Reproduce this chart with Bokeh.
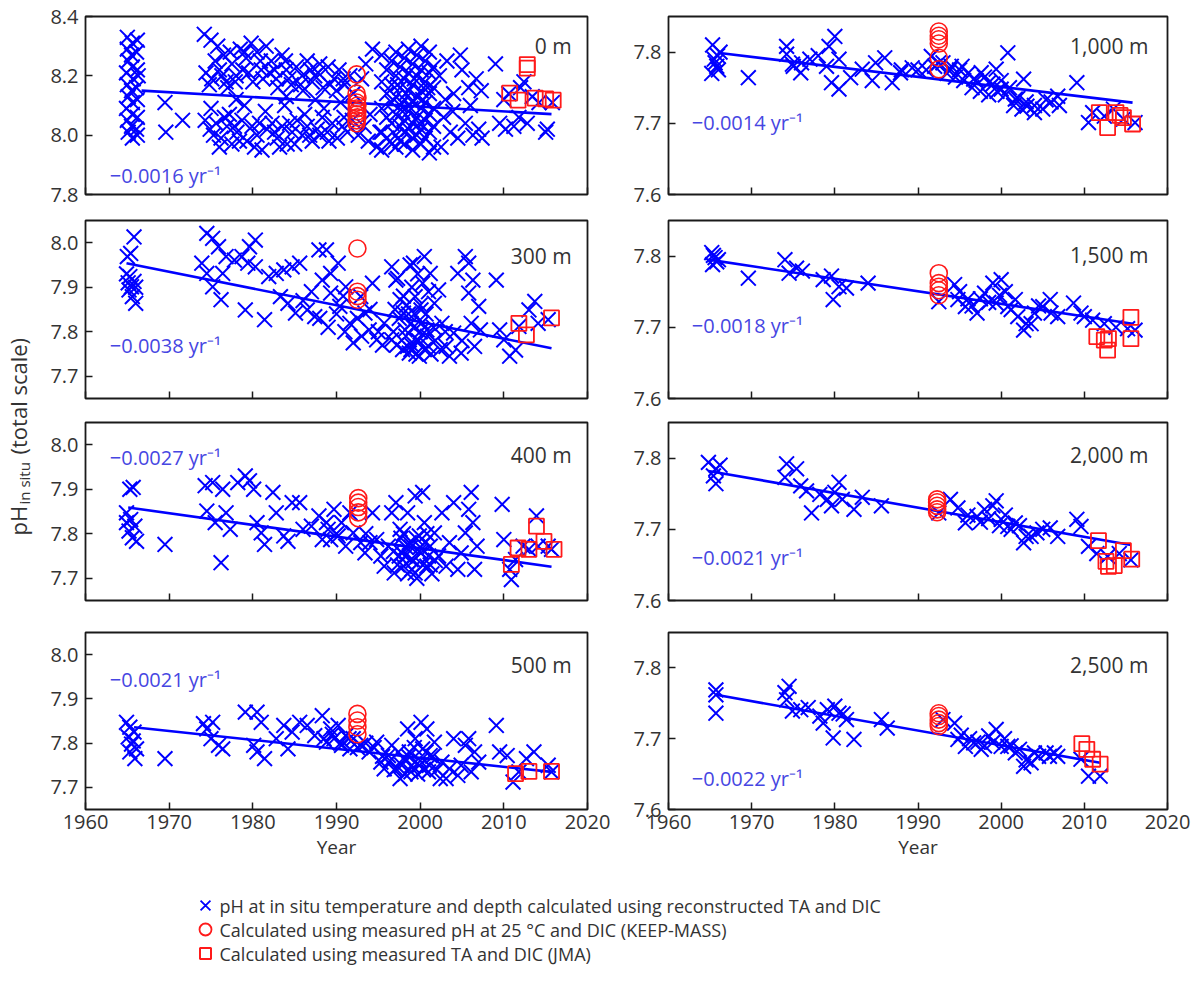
import math
from bokeh.plotting import figure
from bokeh.layouts import row, column
from bokeh.models import Range1d, FixedTicker, PrintfTickFormatter, Label
from bokeh.core.properties import value
from bokeh.embed import file_html
from bokeh.resources import INLINE

FONT = "Open Sans"
BLUE = "#0000ff"
RED = "#ff1a1a"
TXT = "#333333"
SLOPE_C = "#4646e2"

# ---------------- data ----------------
year_ticks = [1960, 1970, 1980, 1990, 2000, 2010, 2020]
depth_labels = ["0 m", "300 m", "400 m", "500 m", "1,000 m", "1,500 m", "2,000 m", "2,500 m"]
slope_labels = ["\u22120.0016", "\u22120.0038", "\u22120.0027", "\u22120.0021",
                "\u22120.0014", "\u22120.0018", "\u22120.0021", "\u22120.0022"]

cross_0m = [
    (1965.0, 8.33), (1965.0, 8.29), (1965.1, 8.25), (1964.9, 8.21), (1965.0, 8.17), (1965.1, 8.13),
    (1964.9, 8.09), (1965.0, 8.05), (1965.1, 8.01), (1965.6, 8.31), (1965.5, 8.27), (1965.6, 8.23),
    (1965.7, 8.19), (1965.5, 8.15), (1965.6, 8.11), (1965.6, 8.07), (1965.5, 8.03), (1965.6, 7.99),
    (1966.2, 8.32), (1966.1, 8.28), (1966.2, 8.22), (1966.3, 8.20), (1966.1, 8.16), (1966.2, 8.12),
    (1966.2, 8.06), (1966.1, 8.02), (1966.2, 8.00),
    (1969.5, 8.11), (1969.6, 8.01), (1971.6, 8.05),
    (1974.2, 8.34), (1975.0, 8.32), (1975.8, 8.30), (1976.5, 8.27), (1974.4, 8.21), (1975.1, 8.19),
    (1976.0, 8.22), (1976.8, 8.18), (1977.5, 8.24), (1978.0, 8.20), (1978.5, 8.29), (1979.2, 8.26),
    (1979.8, 8.31), (1980.5, 8.28), (1981.0, 8.22), (1981.6, 8.30), (1982.2, 8.25), (1982.8, 8.19),
    (1983.5, 8.27), (1984.0, 8.22), (1984.6, 8.17), (1985.2, 8.23), (1985.9, 8.20), (1986.5, 8.25),
    (1987.1, 8.18), (1987.8, 8.21), (1988.4, 8.16), (1989.0, 8.23), (1989.7, 8.19), (1990.3, 8.22),
    (1991.0, 8.17), (1991.6, 8.20), (1977.0, 8.16), (1980.0, 8.18), (1983.0, 8.16), (1986.0, 8.15),
    (1990.0, 8.15), (1975.5, 8.25), (1978.8, 8.22), (1982.0, 8.21), (1988.0, 8.24), (1992.0, 8.14),
    (1993.5, 8.24), (1994.3, 8.29), (1993.0, 8.19),
    (1974.8, 8.17), (1976.3, 8.20), (1977.9, 8.18), (1979.5, 8.21), (1981.2, 8.19), (1982.6, 8.22),
    (1984.3, 8.19), (1985.7, 8.17), (1987.4, 8.20), (1989.2, 8.17), (1990.8, 8.19), (1979.0, 8.28),
    (1980.9, 8.25), (1983.9, 8.25), (1986.9, 8.22), (1977.3, 8.28),
    (1974.3, 8.05), (1974.9, 8.02), (1975.6, 8.04), (1976.2, 7.99), (1976.9, 8.03), (1977.5, 7.97),
    (1978.1, 8.01), (1978.7, 8.05), (1979.3, 7.98), (1979.9, 8.03), (1980.5, 8.00), (1981.1, 7.95),
    (1981.7, 8.02), (1982.3, 8.04), (1982.9, 7.99), (1983.5, 8.03), (1984.1, 7.97), (1984.7, 8.01),
    (1985.3, 8.05), (1985.9, 8.00), (1986.5, 8.03), (1987.1, 7.98), (1987.7, 8.02), (1988.3, 8.06),
    (1988.9, 8.01), (1989.5, 8.04), (1990.1, 7.99), (1990.7, 8.03), (1991.3, 8.01), (1991.9, 8.05),
    (1975.0, 8.09), (1977.2, 8.07), (1979.0, 8.10), (1981.5, 8.08), (1983.8, 8.10), (1986.2, 8.07),
    (1988.5, 8.09), (1990.5, 8.11), (1976.0, 7.96), (1980.2, 7.96), (1985.0, 7.97), (1992.6, 8.00),
    (1993.3, 8.03), (1994.0, 8.07), (1994.8, 7.96), (1995.2, 8.01), (1993.8, 7.98), (1978.0, 8.12),
    (1984.0, 8.13), (1987.5, 8.12),
    (1975.3, 8.00), (1976.6, 8.06), (1978.4, 7.98), (1980.8, 8.04), (1982.6, 8.01), (1984.4, 8.04),
    (1986.8, 8.00), (1989.1, 7.98), (1990.9, 8.06), (1977.8, 8.03), (1983.2, 7.96), (1988.0, 8.00),
    (1995.4, 8.27), (1995.4, 8.18), (1995.4, 8.09), (1995.4, 8.01), (1995.4, 7.95),
    (1996.0, 8.22), (1996.0, 8.14), (1996.0, 8.06), (1996.0, 7.99),
    (1996.6, 8.25), (1996.6, 8.17), (1996.6, 8.11), (1996.6, 8.04), (1996.6, 7.97),
    (1997.1, 8.28), (1997.1, 8.20), (1997.1, 8.13), (1997.1, 8.07), (1997.1, 8.00), (1997.1, 7.96),
    (1997.6, 8.23), (1997.6, 8.16), (1997.6, 8.10), (1997.6, 8.03), (1997.6, 7.98),
    (1998.1, 8.26), (1998.1, 8.19), (1998.1, 8.12), (1998.1, 8.05), (1998.1, 8.01), (1998.1, 7.97),
    (1998.6, 8.29), (1998.6, 8.21), (1998.6, 8.15), (1998.6, 8.08), (1998.6, 8.02),
    (1999.1, 8.24), (1999.1, 8.17), (1999.1, 8.11), (1999.1, 8.04), (1999.1, 7.99), (1999.1, 7.95),
    (1999.6, 8.27), (1999.6, 8.20), (1999.6, 8.13), (1999.6, 8.06), (1999.6, 8.00),
    (2000.1, 8.30), (2000.1, 8.22), (2000.1, 8.15), (2000.1, 8.09), (2000.1, 8.02), (2000.1, 7.97),
    (2000.6, 8.25), (2000.6, 8.18), (2000.6, 8.11), (2000.6, 8.05), (2000.6, 7.99),
    (2001.1, 8.28), (2001.1, 8.21), (2001.1, 8.14), (2001.1, 8.07), (2001.1, 8.01), (2001.1, 7.94),
    (2001.6, 8.23), (2001.6, 8.16), (2001.6, 8.09), (2001.6, 8.03), (2001.6, 7.96),
    (1997.3, 8.17), (1998.3, 8.14), (1999.3, 8.19), (2000.3, 8.12), (1998.9, 8.09), (1997.9, 8.08),
    (2000.9, 8.16), (1999.9, 8.04),
    (2002.3, 8.20), (2002.8, 8.06), (2003.2, 8.25), (2003.6, 8.01), (2004.0, 8.14), (2004.5, 7.99),
    (2005.0, 8.22), (2005.4, 8.04), (2005.8, 8.16), (2006.3, 8.00), (2006.7, 8.19), (2007.0, 8.02),
    (2007.3, 8.15), (2002.5, 7.96), (2003.9, 8.08), (2004.8, 8.27), (2006.0, 8.10), (2007.4, 7.99),
    (2003.0, 8.12),
    (2009.0, 8.24), (2009.5, 8.04), (2010.2, 8.02), (2010.6, 8.14), (2011.2, 8.03), (2011.8, 8.06),
    (2012.4, 8.18), (2012.8, 8.04), (2013.4, 8.13), (2014.2, 8.11), (2015.0, 8.01), (2015.2, 8.02),
    (2015.8, 8.11), (2010.0, 8.12), (2012.0, 8.16),
]
circle_0m = [(1992.4, 8.205), (1992.4, 8.14), (1992.5, 8.125), (1992.4, 8.11), (1992.5, 8.10),
             (1992.4, 8.09), (1992.5, 8.08), (1992.4, 8.07), (1992.5, 8.06), (1992.4, 8.05), (1992.4, 8.04)]
square_0m = [(2010.7, 8.142), (2011.7, 8.118), (2012.8, 8.238), (2012.8, 8.226), (2013.75, 8.125),
             (2015.0, 8.122), (2015.9, 8.118)]
trend_0m = [(1966.7, 8.150), (2015.7, 8.071)]

cross_300m = [
    (1965.8, 8.013), (1965.4, 7.976), (1965.0, 7.969), (1964.9, 7.930), (1965.3, 7.924), (1965.8, 7.913),
    (1965.5, 7.901), (1966.0, 7.900), (1965.2, 7.894), (1965.6, 7.879), (1966.0, 7.864), (1965.1, 7.910),
    (1974.5, 8.021), (1975.2, 8.010), (1975.9, 7.991), (1973.9, 7.954), (1974.5, 7.931), (1975.2, 7.901),
    (1976.4, 7.931), (1976.2, 7.872), (1976.8, 7.969), (1977.8, 7.961), (1978.7, 7.969), (1979.6, 7.991),
    (1980.3, 8.006), (1979.4, 7.954), (1980.3, 7.946), (1979.1, 7.849), (1981.4, 7.827), (1981.9, 7.924),
    (1982.8, 7.931), (1983.7, 7.939), (1984.7, 7.946), (1985.6, 7.954), (1983.3, 7.879), (1984.2, 7.864),
    (1985.1, 7.842), (1986.5, 7.849), (1987.4, 7.834), (1987.9, 7.984), (1988.8, 7.984), (1988.3, 7.916),
    (1989.3, 7.931), (1989.3, 7.887), (1990.2, 7.954), (1990.4, 7.857), (1991.1, 7.901), (1991.6, 7.819),
    (1992.0, 7.775), (1992.9, 7.879), (1993.4, 7.842), (1993.9, 7.804), (1994.3, 7.909), (1994.8, 7.782),
    (1995.7, 7.819), (1996.6, 7.946), (1996.6, 7.782),
    (1988.0, 7.830), (1989.0, 7.810), (1990.0, 7.840), (1991.0, 7.800), (1992.5, 7.830), (1993.0, 7.790),
    (1994.0, 7.850), (1995.0, 7.800), (1995.5, 7.770), (1986.0, 7.870), (1987.0, 7.890), (1990.8, 7.880),
    (1997.1, 7.916), (1997.6, 7.872), (1998.0, 7.842), (1998.2, 7.804), (1998.5, 7.767), (1998.7, 7.752),
    (1998.9, 7.819), (1999.2, 7.954), (1999.4, 7.879), (1999.6, 7.782), (1999.9, 7.745), (2000.1, 7.849),
    (2000.3, 7.909), (2000.5, 7.969), (2000.8, 7.804), (2001.0, 7.767), (2001.2, 7.931), (2001.7, 7.864),
    (2002.2, 7.894), (2002.6, 7.819), (2003.1, 7.767), (2003.5, 7.745), (2004.0, 7.797), (2004.5, 7.931),
    (2004.9, 7.752), (2005.4, 7.969), (2005.8, 7.954), (2005.8, 7.887), (2006.1, 7.819), (2006.3, 7.916),
    (2006.5, 7.767), (2007.0, 7.857), (2007.2, 7.804),
    (1996.8, 7.800), (1997.2, 7.770), (1997.5, 7.830), (1997.9, 7.760), (1998.3, 7.790), (1998.6, 7.840),
    (1998.9, 7.760), (1999.2, 7.810), (1999.5, 7.750), (1999.8, 7.780), (2000.2, 7.820), (2000.5, 7.760),
    (2000.9, 7.790), (2001.3, 7.750), (2001.6, 7.810), (1998.0, 7.880), (1999.0, 7.900), (2000.0, 7.860),
    (1997.3, 7.920), (2001.0, 7.890), (1998.8, 7.950), (1999.7, 7.930),
    (1997.0, 7.850), (1998.4, 7.860), (1999.3, 7.840), (2000.7, 7.840), (2001.8, 7.780), (2002.4, 7.760),
    (1999.0, 7.770), (2000.0, 7.800), (2003.0, 7.800), (2005.0, 7.780),
    (2009.1, 7.916), (2009.5, 7.804), (2010.0, 7.782), (2010.7, 7.745), (2011.4, 7.759), (2011.8, 7.812),
    (2013.0, 7.849), (2013.7, 7.868), (2014.1, 7.819), (2015.3, 7.827),
]
circle_300m = [(1992.5, 7.987), (1992.5, 7.890), (1992.5, 7.880), (1992.5, 7.872)]
square_300m = [(2011.8, 7.819), (2012.7, 7.793), (2015.7, 7.831)]
trend_300m = [(1964.9, 7.954), (2015.7, 7.763)]

cross_400m = [
    (1965.3, 7.900), (1965.7, 7.904), (1964.9, 7.847), (1965.4, 7.832), (1965.9, 7.817), (1965.2, 7.806),
    (1965.6, 7.791), (1966.1, 7.783), (1964.9, 7.825),
    (1969.5, 7.776), (1974.3, 7.908), (1974.5, 7.851), (1975.2, 7.915), (1975.5, 7.825), (1976.2, 7.735),
    (1976.4, 7.900), (1976.8, 7.847), (1977.3, 7.810), (1978.2, 7.915), (1979.1, 7.930), (1979.6, 7.919),
    (1980.1, 7.900), (1980.5, 7.825), (1981.0, 7.802), (1981.4, 7.776), (1982.4, 7.893), (1982.8, 7.847),
    (1983.7, 7.795), (1984.2, 7.783), (1984.7, 7.870), (1985.6, 7.870), (1986.0, 7.810), (1987.0, 7.817),
    (1987.9, 7.840), (1988.3, 7.787), (1988.8, 7.825), (1989.3, 7.787), (1989.7, 7.855), (1990.2, 7.795),
    (1990.6, 7.825), (1991.1, 7.772), (1991.6, 7.847), (1992.0, 7.802), (1992.9, 7.780), (1993.4, 7.757),
    (1994.3, 7.847), (1994.8, 7.787), (1995.3, 7.750), (1995.7, 7.727), (1996.2, 7.772), (1996.6, 7.847),
    (1996.9, 7.712), (1989.0, 7.810), (1990.0, 7.800), (1993.5, 7.800), (1994.0, 7.780),
    (1997.1, 7.870), (1997.6, 7.810), (1997.8, 7.757), (1998.0, 7.727), (1998.5, 7.847), (1998.7, 7.780),
    (1998.9, 7.742), (1999.4, 7.885), (1999.4, 7.712), (1999.9, 7.795), (2000.1, 7.757), (2000.3, 7.893),
    (2000.5, 7.825), (2000.8, 7.727), (2001.2, 7.772), (2001.7, 7.802), (2002.2, 7.750), (2002.6, 7.847),
    (2003.1, 7.727), (2003.5, 7.780), (2004.0, 7.870), (2004.5, 7.720), (2004.9, 7.757), (2005.4, 7.802),
    (2005.8, 7.855), (2006.1, 7.893), (2006.3, 7.825), (2006.5, 7.720), (2006.8, 7.772),
    (1996.8, 7.760), (1997.3, 7.730), (1997.7, 7.790), (1998.2, 7.750), (1998.5, 7.710), (1998.9, 7.770),
    (1999.2, 7.740), (1999.6, 7.700), (1999.9, 7.760), (2000.3, 7.730), (2000.6, 7.780), (2001.0, 7.750),
    (2001.4, 7.710), (2001.8, 7.740), (1998.0, 7.800), (1999.5, 7.790), (2000.8, 7.800),
    (1998.3, 7.770), (1999.0, 7.720), (2000.0, 7.770), (2001.2, 7.730), (1997.5, 7.750),
    (2009.8, 7.866), (2010.0, 7.787), (2010.7, 7.720), (2010.9, 7.697), (2011.4, 7.742), (2012.3, 7.772),
    (2013.0, 7.765), (2013.9, 7.840), (2014.1, 7.772), (2015.3, 7.772), (2015.7, 7.765),
]
circle_400m = [(1992.6, 7.880), (1992.6, 7.870), (1992.6, 7.860), (1992.6, 7.848), (1992.6, 7.835)]
square_400m = [(2010.9, 7.731), (2011.7, 7.768), (2013.0, 7.765), (2013.9, 7.817), (2014.8, 7.783),
               (2016.0, 7.765)]
trend_400m = [(1965.1, 7.859), (2015.7, 7.726)]

cross_500m = [
    (1964.9, 7.847), (1965.3, 7.836), (1965.8, 7.825), (1965.1, 7.814), (1965.5, 7.798), (1966.1, 7.787),
    (1965.3, 7.780), (1965.9, 7.765), (1965.7, 7.805),
    (1969.5, 7.765), (1974.1, 7.844), (1974.5, 7.832), (1975.2, 7.847), (1975.0, 7.810), (1975.9, 7.795),
    (1976.4, 7.787), (1979.1, 7.870), (1980.5, 7.870), (1980.1, 7.795), (1980.5, 7.780), (1981.0, 7.847),
    (1981.4, 7.765), (1982.8, 7.810), (1983.7, 7.840), (1984.2, 7.787), (1984.7, 7.825), (1985.6, 7.847),
    (1986.5, 7.840), (1987.4, 7.817), (1988.3, 7.862), (1988.8, 7.802), (1989.3, 7.832), (1989.7, 7.810),
    (1990.2, 7.840), (1990.6, 7.795), (1991.1, 7.817), (1991.6, 7.787), (1992.0, 7.810), (1992.9, 7.795),
    (1993.9, 7.780), (1994.8, 7.802), (1995.3, 7.757), (1995.7, 7.742), (1996.2, 7.772),
    (1996.6, 7.795), (1997.1, 7.742), (1997.6, 7.720), (1998.0, 7.765), (1998.5, 7.832), (1998.7, 7.780),
    (1998.9, 7.735), (1999.4, 7.810), (1999.9, 7.750), (2000.1, 7.847), (2000.3, 7.787), (2000.8, 7.832),
    (2001.0, 7.735), (2001.2, 7.772), (2001.7, 7.802), (2002.6, 7.757), (2003.1, 7.720), (2003.5, 7.742),
    (2004.0, 7.810), (2004.5, 7.727), (2004.9, 7.750), (2005.4, 7.795), (2005.8, 7.810), (2006.1, 7.735),
    (2006.5, 7.780), (2007.0, 7.757),
    (1996.4, 7.760), (1996.9, 7.740), (1997.4, 7.780), (1997.8, 7.750), (1998.2, 7.730), (1998.6, 7.770),
    (1999.0, 7.750), (1999.3, 7.790), (1999.7, 7.730), (2000.0, 7.760), (2000.4, 7.740), (2000.7, 7.780),
    (2001.1, 7.750), (2001.5, 7.770), (2002.0, 7.740), (2002.4, 7.720), (1995.5, 7.770), (1994.5, 7.790),
    (1993.5, 7.800), (1992.5, 7.790), (1991.5, 7.810), (1990.5, 7.800), (1989.5, 7.820), (1988.5, 7.810),
    (2009.1, 7.840), (2009.5, 7.780), (2010.4, 7.772), (2011.1, 7.712), (2011.8, 7.735), (2012.7, 7.765),
    (2013.6, 7.780), (2015.3, 7.750), (2015.7, 7.735),
]
circle_500m = [(1992.5, 7.866), (1992.5, 7.851), (1992.5, 7.836), (1992.5, 7.820)]
square_500m = [(2011.4, 7.731), (2013.0, 7.736), (2015.7, 7.736)]
trend_500m = [(1965.8, 7.836), (2015.7, 7.735)]

cross_1000m = [
    (1965.3, 7.810), (1965.5, 7.790), (1965.8, 7.780), (1966.0, 7.775), (1965.2, 7.770), (1966.2, 7.800),
    (1965.6, 7.785), (1965.9, 7.795),
    (1969.6, 7.764), (1974.2, 7.808), (1974.2, 7.797), (1974.9, 7.783), (1975.9, 7.771), (1975.0, 7.780),
    (1976.0, 7.785), (1977.0, 7.790), (1978.0, 7.795), (1979.0, 7.780), (1980.0, 7.822), (1979.3, 7.808),
    (1980.5, 7.790), (1979.6, 7.757), (1980.5, 7.748), (1981.9, 7.764), (1983.3, 7.776), (1984.9, 7.785),
    (1986.0, 7.792), (1986.9, 7.757), (1987.9, 7.771), (1989.3, 7.778), (1984.5, 7.760), (1988.0, 7.775),
    (1990.0, 7.775),
    (1991.6, 7.794), (1992.5, 7.785), (1993.9, 7.776), (1995.3, 7.780), (1996.7, 7.762), (1997.6, 7.771),
    (1998.5, 7.757), (1999.4, 7.776), (2000.8, 7.799), (2000.0, 7.748), (2001.7, 7.734), (2002.7, 7.762),
    (2003.1, 7.724), (2004.0, 7.715), (2005.4, 7.733), (2006.8, 7.738), (2009.1, 7.757), (2010.5, 7.701),
    (2011.0, 7.715), (2012.4, 7.710), (2013.5, 7.720), (2014.7, 7.706), (2016.1, 7.701),
    (1991.0, 7.775), (1992.0, 7.780), (1993.0, 7.785), (1993.5, 7.770), (1994.0, 7.780), (1994.5, 7.765),
    (1995.0, 7.775), (1995.5, 7.760), (1996.0, 7.770), (1996.5, 7.750), (1997.0, 7.760), (1997.5, 7.745),
    (1998.0, 7.765), (1998.5, 7.740), (1999.0, 7.755), (1999.5, 7.745), (2000.0, 7.760), (2000.5, 7.740),
    (2001.0, 7.750), (2001.5, 7.725), (2002.0, 7.735), (2002.5, 7.720), (2003.0, 7.730), (2004.0, 7.725),
    (2005.0, 7.720), (2006.0, 7.730), (2007.0, 7.725),
]
circle_1000m = [(1992.5, 7.829), (1992.5, 7.823), (1992.5, 7.818), (1992.5, 7.812), (1992.5, 7.792),
                (1992.5, 7.776)]
square_1000m = [(2011.8, 7.715), (2012.8, 7.694), (2013.8, 7.715), (2014.3, 7.711), (2014.7, 7.708),
                (2015.8, 7.699)]
trend_1000m = [(1965.9, 7.799), (2015.8, 7.729)]

cross_1500m = [
    (1965.2, 7.805), (1965.6, 7.798), (1965.4, 7.801), (1965.8, 7.792), (1965.3, 7.788), (1966.0, 7.795),
    (1969.6, 7.769), (1974.0, 7.795), (1974.5, 7.776), (1975.4, 7.783), (1976.1, 7.779), (1978.6, 7.767),
    (1979.6, 7.772), (1979.8, 7.739), (1980.5, 7.757), (1981.4, 7.755), (1984.0, 7.762),
    (1992.5, 7.736), (1994.4, 7.760), (1994.8, 7.739), (1995.7, 7.729), (1997.1, 7.720), (1998.0, 7.748),
    (1999.0, 7.762), (2000.0, 7.767), (1999.4, 7.734), (2000.8, 7.729), (2001.7, 7.739), (2002.7, 7.696),
    (2003.6, 7.705), (2005.0, 7.729), (2005.9, 7.739), (2006.8, 7.715), (2008.7, 7.734), (2009.6, 7.720),
    (2011.0, 7.710), (2012.4, 7.705), (2013.8, 7.700), (2015.2, 7.698), (2016.1, 7.696),
    (1995.0, 7.750), (1996.0, 7.740), (1996.5, 7.730), (1997.5, 7.740), (1998.5, 7.735), (1999.8, 7.745),
    (2000.5, 7.750), (2001.2, 7.725), (2002.0, 7.715), (2003.0, 7.705), (2004.0, 7.720), (2004.5, 7.730),
    (2006.0, 7.720), (2010.0, 7.715),
]
circle_1500m = [(1992.5, 7.776), (1992.5, 7.762), (1992.5, 7.757), (1992.5, 7.752), (1992.5, 7.745)]
square_1500m = [(2011.5, 7.687), (2012.4, 7.682), (2012.8, 7.668), (2012.9, 7.684), (2015.6, 7.714),
                (2015.6, 7.684)]
trend_1500m = [(1964.8, 7.795), (2015.8, 7.705)]

cross_2000m = [
    (1964.8, 7.794), (1965.7, 7.785), (1965.4, 7.775), (1965.7, 7.764), (1966.2, 7.790),
    (1974.2, 7.792), (1974.0, 7.773), (1975.4, 7.785), (1975.9, 7.761), (1976.6, 7.754), (1977.2, 7.723),
    (1978.2, 7.749), (1979.1, 7.742), (1979.6, 7.733), (1980.5, 7.766), (1980.0, 7.752), (1980.9, 7.742),
    (1982.3, 7.728), (1983.3, 7.745), (1985.6, 7.733),
    (1992.5, 7.723), (1993.9, 7.742), (1994.8, 7.730), (1995.7, 7.709), (1997.1, 7.718), (1998.0, 7.728),
    (1999.0, 7.733), (1999.4, 7.740), (2000.0, 7.714), (2000.8, 7.704), (2001.7, 7.709), (2002.7, 7.681),
    (2003.6, 7.690), (2005.0, 7.700), (2005.9, 7.702), (2006.8, 7.690), (2009.1, 7.714), (2009.6, 7.704),
    (2010.5, 7.676), (2011.5, 7.666), (2012.8, 7.662), (2014.2, 7.666), (2015.6, 7.657),
    (1996.0, 7.720), (1997.5, 7.710), (1998.5, 7.715), (1999.8, 7.705), (2000.5, 7.720), (2001.2, 7.700),
    (2002.2, 7.705), (2003.0, 7.690), (2004.3, 7.695),
]
circle_2000m = [(1992.3, 7.742), (1992.3, 7.738), (1992.3, 7.733), (1992.3, 7.728), (1992.3, 7.724)]
square_2000m = [(2011.7, 7.684), (2012.6, 7.655), (2012.9, 7.648), (2013.6, 7.649), (2014.7, 7.670),
                (2015.7, 7.658)]
trend_2000m = [(1964.8, 7.782), (2015.6, 7.678)]

cross_2500m = [
    (1965.7, 7.769), (1965.7, 7.762), (1965.7, 7.736),
    (1974.0, 7.765), (1974.5, 7.774), (1974.2, 7.755), (1974.9, 7.739), (1975.9, 7.741), (1976.8, 7.744),
    (1978.2, 7.732), (1978.6, 7.722), (1979.1, 7.741), (1980.0, 7.746), (1980.5, 7.736), (1979.8, 7.701),
    (1981.4, 7.727), (1982.3, 7.699), (1981.0, 7.735), (1985.6, 7.727), (1986.3, 7.715),
    (1993.0, 7.727), (1994.4, 7.722), (1994.8, 7.699), (1995.7, 7.689), (1996.7, 7.694), (1997.6, 7.685),
    (1998.5, 7.704), (1999.4, 7.713), (2000.0, 7.689), (2000.8, 7.689), (2001.7, 7.680), (2002.7, 7.661),
    (2003.6, 7.666), (2004.5, 7.675), (2005.4, 7.680), (2006.4, 7.680), (2006.8, 7.675), (2009.6, 7.671),
    (2010.5, 7.647), (2011.9, 7.647),
    (1995.2, 7.705), (1996.2, 7.700), (1997.2, 7.695), (1998.0, 7.690), (1999.0, 7.695), (2000.4, 7.700),
    (2001.2, 7.690), (2002.2, 7.685), (2003.0, 7.670), (2004.0, 7.680), (2005.8, 7.675),
]
circle_2500m = [(1992.5, 7.736), (1992.5, 7.732), (1992.5, 7.727), (1992.5, 7.722), (1992.5, 7.718)]
square_2500m = [(2009.7, 7.693), (2010.3, 7.685), (2011.0, 7.671), (2011.9, 7.664)]
trend_2500m = [(1965.7, 7.762), (2011.9, 7.666)]

legend_labels = [
    "pH at in situ temperature and depth calculated using reconstructed TA and DIC",
    "Calculated using measured pH at 25 \u00b0C and DIC (KEEP-MASS)",
    "Calculated using measured TA and DIC (JMA)",
]
legend_markers = ["x", "circle", "square"]

# ---------------- layout ----------------
FRAME_H = 178
LEFT = dict(bl=45, fw=502, br=31)
RIGHT = dict(bl=50, fw=499, br=25)
ROW_B = [(16, 14), (12, 12), (12, 16), (16, 52)]  # (top, bottom) borders

MARK = {
    "x": dict(size=21, line_width=2.0, line_color=BLUE),
    "circle": dict(size=17, line_width=1.6, line_color=RED, fill_color=None),
    "square": dict(size=15, line_width=1.8, line_color=RED, fill_color=None),
}
LEG_MARK = {
    "x": dict(size=14, line_width=1.8, line_color=BLUE),
    "circle": dict(size=12, line_width=1.8, line_color=RED, fill_color=None),
    "square": dict(size=11, line_width=2.0, line_color=RED, fill_color=None),
}

panels = [
    (cross_0m, circle_0m, square_0m, trend_0m, 0, 0, (7.8, 8.4), [7.8, 8.0, 8.2, 8.4], (1962.9, 7.864), 8.302),
    (cross_300m, circle_300m, square_300m, trend_300m, 0, 1, (7.65, 8.05), [7.7, 7.8, 7.9, 8.0], (1962.9, 7.769), 7.971),
    (cross_400m, circle_400m, square_400m, trend_400m, 0, 2, (7.65, 8.05), [7.7, 7.8, 7.9, 8.0], (1962.9, 7.971), 7.976),
    (cross_500m, circle_500m, square_500m, trend_500m, 0, 3, (7.65, 8.05), [7.7, 7.8, 7.9, 8.0], (1962.9, 7.944), 7.976),
    (cross_1000m, circle_1000m, square_1000m, trend_1000m, 1, 0, (7.6, 7.85), [7.6, 7.7, 7.8], (1962.8, 7.701), 7.809),
    (cross_1500m, circle_1500m, square_1500m, trend_1500m, 1, 1, (7.6, 7.85), [7.6, 7.7, 7.8], (1962.8, 7.703), 7.801),
    (cross_2000m, circle_2000m, square_2000m, trend_2000m, 1, 2, (7.6, 7.85), [7.6, 7.7, 7.8], (1962.8, 7.660), 7.804),
    (cross_2500m, circle_2500m, square_2500m, trend_2500m, 1, 3, (7.6, 7.85), [7.6, 7.7, 7.8], (1962.8, 7.644), 7.804),
]

figs = {}
for idx, (cr, ci, sq, tr, col, rw, yr, yt, spos, lab_y) in enumerate(panels):
    g = LEFT if col == 0 else RIGHT
    bt, bb = ROW_B[rw]
    p = figure(width=g["bl"] + g["fw"] + g["br"], height=bt + FRAME_H + bb,
               x_range=Range1d(1960, 2020), y_range=Range1d(*yr),
               output_backend="svg", toolbar_location=None,
               min_border_left=g["bl"], min_border_right=g["br"],
               min_border_top=bt, min_border_bottom=bb)
    p.grid.visible = False
    p.outline_line_color = "#1a1a1a"
    p.outline_line_width = 1.8
    p.background_fill_color = "white"
    p.border_fill_color = "white"
    for ax in (p.xaxis[0], p.yaxis[0]):
        ax.axis_line_color = None
        ax.major_tick_in = 7
        ax.major_tick_out = 0
        ax.major_tick_line_color = "#1a1a1a"
        ax.major_tick_line_width = 1.5
        ax.minor_tick_line_color = None
        ax.major_label_text_font = FONT
        ax.major_label_text_font_size = "20px"
        ax.major_label_text_color = TXT
    p.xaxis.ticker = FixedTicker(ticks=year_ticks)
    p.yaxis.ticker = FixedTicker(ticks=yt)
    p.yaxis.formatter = PrintfTickFormatter(format="%.1f")
    p.yaxis.major_label_standoff = 7
    if rw == 3:
        p.xaxis.major_label_standoff = 5
        p.xaxis.axis_label = "Year"
        p.xaxis.axis_label_text_font = FONT
        p.xaxis.axis_label_text_font_size = "19px"
        p.xaxis.axis_label_text_font_style = "normal"
        p.xaxis.axis_label_text_color = TXT
        p.xaxis.axis_label_standoff = 2
    else:
        p.xaxis.major_label_overrides = {t: "" for t in year_ticks}
        p.xaxis.major_label_text_font_size = "0px"
        p.xaxis.major_label_standoff = 0

    p.scatter(x=[a for a, b in cr], y=[b for a, b in cr], marker="x", **MARK["x"])
    p.line(x=[a for a, b in tr], y=[b for a, b in tr], line_color=BLUE, line_width=2.6)
    p.scatter(x=[a for a, b in ci], y=[b for a, b in ci], marker="circle", **MARK["circle"])
    p.scatter(x=[a for a, b in sq], y=[b for a, b in sq], marker="square", **MARK["square"])

    p.add_layout(Label(x=spos[0], y=spos[1], text=slope_labels[idx] + " yr\u207b\u00b9",
                       text_font=FONT, text_font_size="20px", text_color=SLOPE_C,
                       text_align="left", text_baseline="middle"))
    p.add_layout(Label(x=2018.1 if col == 0 else 2017.7, y=lab_y, text=depth_labels[idx],
                       text_font=FONT, text_font_size="21px", text_color=TXT,
                       text_align="right", text_baseline="middle"))
    figs[(col, rw)] = p

total_h = sum(t + FRAME_H + b for t, b in ROW_B)
total_w = 40 + sum(LEFT.values()) + sum(RIGHT.values())

# y-axis title figure (its data coordinates equal page pixels)
ylab = figure(width=40, height=total_h, x_range=Range1d(0, 40), y_range=Range1d(8 + total_h, 8),
              output_backend="svg", toolbar_location=None, x_axis_type=None, y_axis_type=None,
              min_border=0, min_border_left=0, min_border_right=0, min_border_top=0, min_border_bottom=0)
ylab.grid.visible = False
ylab.outline_line_color = None
y0 = 543
ylab.add_layout(Label(x=17, y=y0, text="pH", angle=math.pi / 2, text_font=FONT, text_font_size="22px",
                      text_color=TXT, text_align="left", text_baseline="middle"))
ylab.add_layout(Label(x=23, y=y0 - 31, text="in situ", angle=math.pi / 2, text_font=FONT,
                      text_font_size="15px", text_color=TXT, text_align="left", text_baseline="middle"))
ylab.add_layout(Label(x=17, y=y0 - 31 - 50, text="(total scale)", angle=math.pi / 2, text_font=FONT,
                      text_font_size="22px", text_color=TXT, text_align="left", text_baseline="middle"))

# legend figure: data coordinates = pixels from its top-left corner
LEG_H = 104
leg = figure(width=total_w, height=LEG_H, x_range=Range1d(0, total_w), y_range=Range1d(LEG_H, 0),
             output_backend="svg", toolbar_location=None, x_axis_type=None, y_axis_type=None,
             min_border=0, min_border_left=0, min_border_right=0, min_border_top=0, min_border_bottom=0)
leg.grid.visible = False
leg.outline_line_color = None
LEG_X, LEG_Y0, LEG_DY = 205, 43, 24
for i, (mk, lab) in enumerate(zip(legend_markers, legend_labels)):
    leg.scatter(x=[LEG_X], y=[LEG_Y0 + i * LEG_DY], marker=mk, **LEG_MARK[mk])
leg.text(x=[LEG_X + 14] * 3, y=[LEG_Y0 + i * LEG_DY for i in range(3)], text=legend_labels,
         text_font=value(FONT), text_font_size="18px", text_color=TXT,
         text_align="left", text_baseline="middle")

left_col = column(*[figs[(0, r)] for r in range(4)], spacing=0)
right_col = column(*[figs[(1, r)] for r in range(4)], spacing=0)
layout = column(row(ylab, left_col, right_col, spacing=0), leg, spacing=0)

open("out.html", "w").write(file_html(layout, INLINE))
